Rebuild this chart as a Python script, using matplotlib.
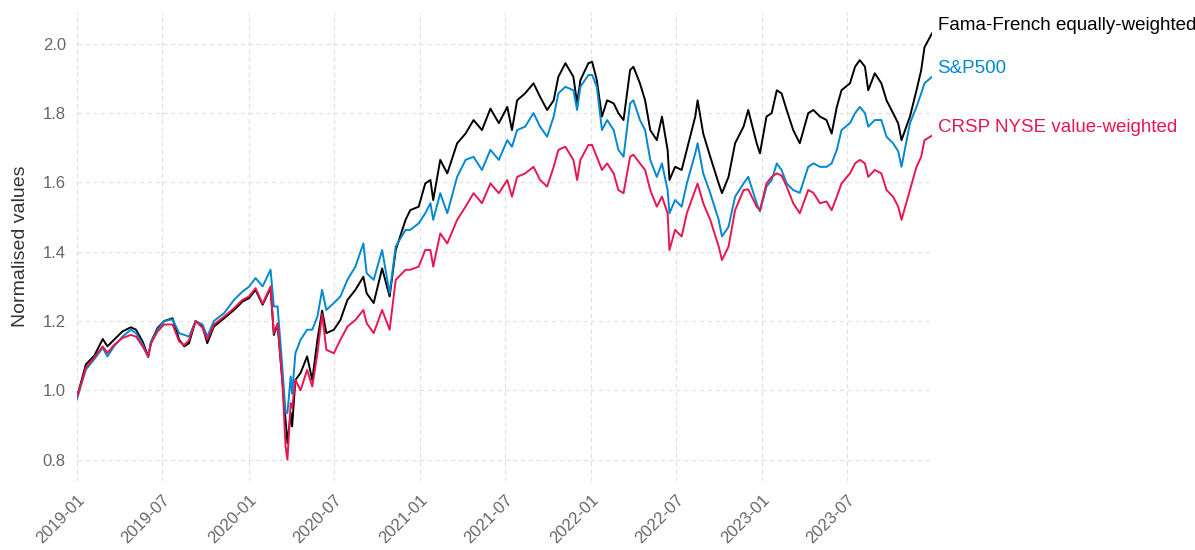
import matplotlib
matplotlib.use("Agg")
import matplotlib.pyplot as plt
import matplotlib.dates as mdates
import pandas as pd

plt.rcParams["font.family"] = ["Liberation Sans", "DejaVu Sans"]

dates = [
    "2018-12-31", "2019-01-19", "2019-02-06", "2019-02-24", "2019-03-06", "2019-03-20",
    "2019-04-07", "2019-04-25", "2019-05-06", "2019-05-20", "2019-06-01", "2019-06-07",
    "2019-06-21", "2019-07-05", "2019-07-23", "2019-08-06", "2019-08-17", "2019-08-27",
    "2019-09-10", "2019-09-25", "2019-10-05", "2019-10-19", "2019-11-10", "2019-12-01",
    "2019-12-19", "2020-01-02", "2020-01-16", "2020-01-31", "2020-02-17", "2020-02-24",
    "2020-03-03", "2020-03-13", "2020-03-20", "2020-03-24", "2020-03-31", "2020-04-03",
    "2020-04-10", "2020-04-21", "2020-05-05", "2020-05-16", "2020-05-27", "2020-06-06",
    "2020-06-15", "2020-07-01", "2020-07-15", "2020-07-30", "2020-08-16", "2020-09-02",
    "2020-09-09", "2020-09-24", "2020-10-12", "2020-10-28", "2020-11-10", "2020-12-01",
    "2020-12-11", "2020-12-29", "2021-01-12", "2021-01-23", "2021-01-29", "2021-02-13",
    "2021-02-28", "2021-03-21", "2021-04-08", "2021-04-25", "2021-05-13", "2021-05-31",
    "2021-06-18", "2021-07-06", "2021-07-16", "2021-07-27", "2021-08-13", "2021-08-31",
    "2021-09-14", "2021-09-29", "2021-10-13", "2021-10-23", "2021-11-07", "2021-11-24",
    "2021-12-02", "2021-12-09", "2021-12-26", "2022-01-03", "2022-01-13", "2022-01-24",
    "2022-02-04", "2022-02-18", "2022-02-28", "2022-03-11", "2022-03-25", "2022-04-01",
    "2022-04-15", "2022-04-26", "2022-05-07", "2022-05-21", "2022-06-01", "2022-06-13",
    "2022-06-17", "2022-06-29", "2022-07-13", "2022-07-24", "2022-08-11", "2022-08-16",
    "2022-08-28", "2022-09-12", "2022-09-30", "2022-10-07", "2022-10-21", "2022-11-04",
    "2022-11-22", "2022-12-02", "2022-12-20", "2022-12-27", "2023-01-10", "2023-01-21",
    "2023-02-01", "2023-02-11", "2023-02-22", "2023-03-08", "2023-03-22", "2023-04-09",
    "2023-04-20", "2023-05-04", "2023-05-18", "2023-05-29", "2023-06-09", "2023-06-19",
    "2023-07-07", "2023-07-18", "2023-07-28", "2023-08-08", "2023-08-15", "2023-08-29",
    "2023-09-12", "2023-09-23", "2023-10-07", "2023-10-18", "2023-10-25", "2023-11-12",
    "2023-11-26", "2023-12-06", "2023-12-13", "2023-12-29",
]

ff_ew = [
    0.98, 1.075, 1.10, 1.148, 1.127, 1.146,
    1.17, 1.182, 1.175, 1.141, 1.098, 1.14,
    1.18, 1.20, 1.208, 1.146, 1.127, 1.136,
    1.20, 1.184, 1.136, 1.184, 1.208, 1.232,
    1.256, 1.266, 1.29, 1.247, 1.295, 1.16,
    1.19, 1.03, 0.915, 0.848, 0.935, 0.896,
    1.03, 1.05, 1.098, 1.03, 1.146, 1.23,
    1.165, 1.175, 1.203, 1.261, 1.29, 1.328,
    1.28, 1.252, 1.352, 1.271, 1.405, 1.492,
    1.52, 1.53, 1.597, 1.607, 1.549, 1.665,
    1.626, 1.713, 1.741, 1.78, 1.751, 1.813,
    1.771, 1.818, 1.751, 1.837, 1.857, 1.886,
    1.847, 1.809, 1.837, 1.905, 1.944, 1.905,
    1.828, 1.895, 1.944, 1.948, 1.895, 1.79,
    1.837, 1.828, 1.80, 1.78, 1.924, 1.934,
    1.886, 1.837, 1.751, 1.722, 1.79, 1.694,
    1.607, 1.645, 1.636, 1.694, 1.79, 1.837,
    1.741, 1.674, 1.597, 1.569, 1.616, 1.713,
    1.761, 1.809, 1.713, 1.684, 1.79, 1.80,
    1.866, 1.857, 1.809, 1.751, 1.713, 1.80,
    1.809, 1.79, 1.78, 1.741, 1.818, 1.866,
    1.886, 1.934, 1.953, 1.934, 1.866, 1.915,
    1.886, 1.837, 1.80, 1.77, 1.722, 1.79,
    1.866, 1.924, 1.99, 2.03,
]

sp500 = [
    0.975, 1.06, 1.09, 1.123, 1.098, 1.127,
    1.155, 1.175, 1.165, 1.133, 1.095, 1.14,
    1.175, 1.20, 1.205, 1.165, 1.16, 1.155,
    1.20, 1.19, 1.155, 1.20, 1.223, 1.261,
    1.285, 1.299, 1.324, 1.30, 1.348, 1.242,
    1.242, 1.069, 0.935, 0.935, 1.04, 0.99,
    1.107, 1.146, 1.175, 1.175, 1.213, 1.29,
    1.232, 1.252, 1.271, 1.319, 1.357, 1.424,
    1.338, 1.319, 1.405, 1.28, 1.415, 1.463,
    1.463, 1.482, 1.511, 1.54, 1.492, 1.569,
    1.511, 1.616, 1.665, 1.674, 1.636, 1.694,
    1.665, 1.722, 1.703, 1.751, 1.761, 1.80,
    1.761, 1.732, 1.79, 1.857, 1.876, 1.866,
    1.809, 1.876, 1.91, 1.91, 1.876, 1.751,
    1.78, 1.751, 1.694, 1.674, 1.828, 1.837,
    1.78, 1.751, 1.665, 1.616, 1.655, 1.578,
    1.511, 1.549, 1.53, 1.597, 1.684, 1.713,
    1.626, 1.569, 1.492, 1.444, 1.472, 1.559,
    1.597, 1.616, 1.54, 1.516, 1.588, 1.607,
    1.655, 1.636, 1.597, 1.578, 1.57, 1.645,
    1.655, 1.645, 1.645, 1.655, 1.694, 1.751,
    1.771, 1.80, 1.818, 1.80, 1.761, 1.78,
    1.78, 1.732, 1.713, 1.69, 1.645, 1.771,
    1.818, 1.857, 1.886, 1.905,
]

crsp_vw = [
    0.98, 1.065, 1.095, 1.127, 1.108, 1.131,
    1.151, 1.16, 1.155, 1.127, 1.098, 1.135,
    1.17, 1.19, 1.19, 1.141, 1.131, 1.145,
    1.20, 1.18, 1.146, 1.19, 1.213, 1.237,
    1.261, 1.271, 1.295, 1.25, 1.30, 1.165,
    1.194, 1.03, 0.838, 0.80, 0.963, 0.95,
    1.03, 1.0, 1.059, 1.011, 1.107, 1.22,
    1.117, 1.107, 1.146, 1.184, 1.203, 1.232,
    1.194, 1.165, 1.232, 1.175, 1.319, 1.348,
    1.348, 1.357, 1.405, 1.405, 1.357, 1.453,
    1.424, 1.492, 1.53, 1.569, 1.54, 1.597,
    1.569, 1.607, 1.559, 1.616, 1.626, 1.645,
    1.607, 1.588, 1.645, 1.694, 1.703, 1.665,
    1.607, 1.665, 1.708, 1.708, 1.674, 1.636,
    1.655, 1.626, 1.578, 1.569, 1.674, 1.68,
    1.655, 1.636, 1.578, 1.53, 1.559, 1.511,
    1.405, 1.463, 1.444, 1.511, 1.578, 1.597,
    1.54, 1.492, 1.415, 1.376, 1.415, 1.52,
    1.578, 1.58, 1.53, 1.52, 1.597, 1.616,
    1.626, 1.62, 1.588, 1.54, 1.511, 1.578,
    1.57, 1.54, 1.545, 1.52, 1.559, 1.597,
    1.626, 1.655, 1.665, 1.655, 1.616, 1.636,
    1.626, 1.578, 1.559, 1.53, 1.492, 1.578,
    1.645, 1.674, 1.722, 1.735,
]

series_names = ["Fama-French equally-weighted", "S&P500", "CRSP NYSE value-weighted"]
series_colors = ["#000000", "#0288d1", "#e8174f"]

df = pd.DataFrame(
    {series_names[0]: ff_ew, series_names[1]: sp500, series_names[2]: crsp_vw},
    index=pd.to_datetime(dates),
)

fig = plt.figure(figsize=(11.95, 5.5), dpi=100)
ax = fig.add_axes([0.0644, 0.1255, 0.7155, 0.8525])

for name, color in zip(series_names, series_colors):
    ax.plot(df.index, df[name], color=color, linewidth=1.4)
    ax.annotate(
        name,
        xy=(df.index[-1], df[name].iloc[-1]),
        xytext=(4, 6),
        textcoords="offset points",
        va="center",
        ha="left",
        color=color,
        fontsize=13.5,
        annotation_clip=False,
    )

ax.set_xlim(df.index[0], df.index[-1])
ax.set_yticks([0.8, 1.0, 1.2, 1.4, 1.6, 1.8, 2.0])
ax.xaxis.set_major_locator(mdates.MonthLocator(bymonth=[1, 7]))
ax.xaxis.set_major_formatter(mdates.DateFormatter("%Y-%m"))
plt.setp(ax.get_xticklabels(), rotation=45, ha="right", rotation_mode="anchor")

ax.grid(True, linestyle=(0, (4, 3)), color="#e0e0e0", linewidth=0.8)
ax.set_axisbelow(True)
for side in ax.spines.values():
    side.set_visible(False)
ax.tick_params(axis="both", length=0, labelsize=12, labelcolor="#666666", pad=8)
ax.set_ylabel("Normalised values", fontsize=14, color="#333333", labelpad=10)

fig.savefig("out.png", dpi=100)
